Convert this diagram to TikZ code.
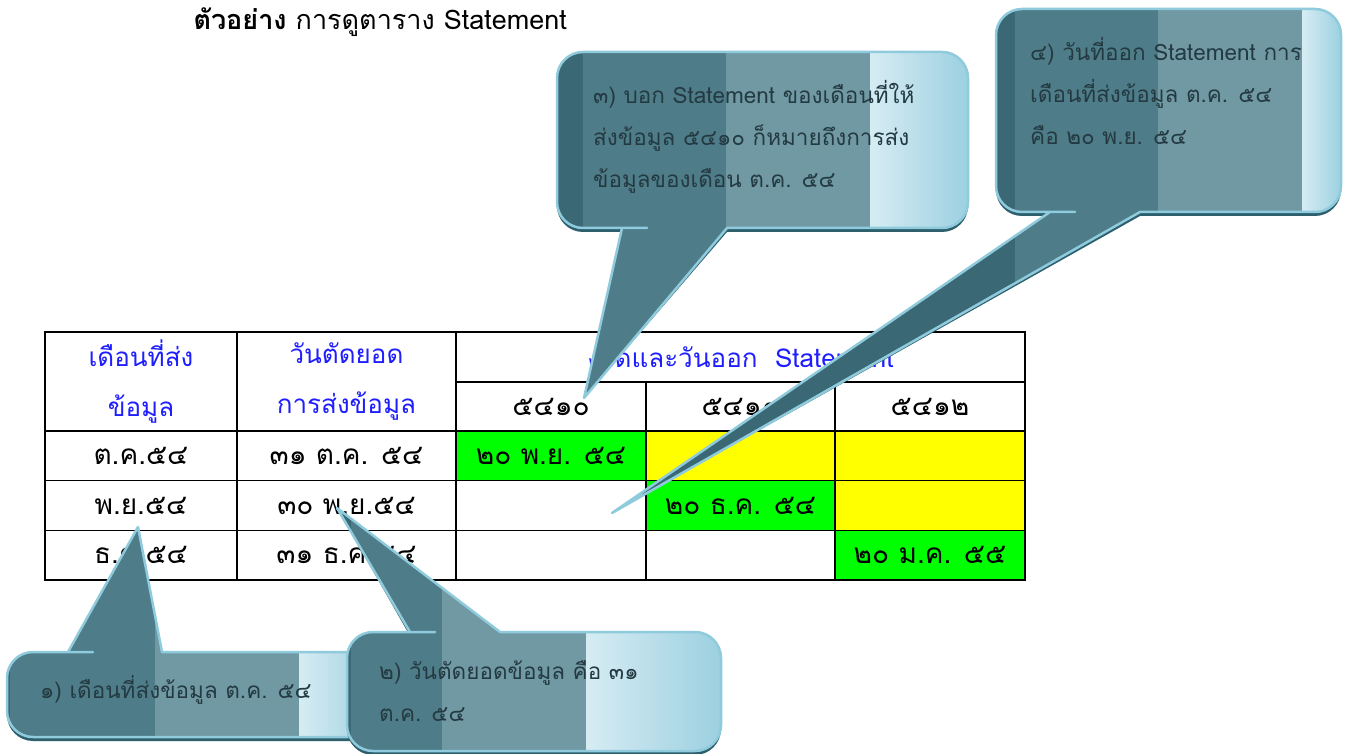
\documentclass[tikz,border=0pt]{standalone}
\usepackage{fontspec}
\newfontfamily\thaifont[Script=Thai]{Loma}
\usetikzlibrary{positioning}

\definecolor{headblue}{RGB}{30,30,255}
\definecolor{cellgreen}{RGB}{0,255,0}
\definecolor{cellyellow}{RGB}{255,255,0}
\definecolor{balloonbase}{RGB}{58,104,117}
\definecolor{balloondark}{RGB}{78,124,136}
\definecolor{balloonmid}{RGB}{112,153,163}
\definecolor{balloonlightA}{RGB}{214,236,243}
\definecolor{balloonlightB}{RGB}{156,208,224}
\definecolor{balloonrim}{RGB}{143,203,220}
\definecolor{balloonshadow}{RGB}{45,95,108}
\definecolor{notetext}{RGB}{36,58,66}

\newcommand{\titlefont}{\thaifont\fontsize{27}{30}\selectfont}
\newcommand{\tblfont}{\thaifont\fontsize{28}{30}\selectfont}
\newcommand{\tblhead}{\thaifont\fontsize{26}{50}\selectfont}
\newcommand{\notefont}{\thaifont\fontsize{22.5}{42}\selectfont}

% balloon outline: x1, x2, y of tail side, y of other side, tail from, tail to, tip
\newcommand{\balloon}[7]{({#5},{#3}) -- (#7) -- ({#6},{#3}) -- ({#6+1},{#3})
  [rounded corners=26pt] -- ({#2},{#3}) -- ({#2},{#4}) -- ({#1},{#4}) -- ({#1},{#3})
  -- ({#5-1},{#3}) [sharp corners] -- cycle}

% balloon body with its bands: outline args, dark band start, light part start
\newcommand{\drawballoon}[9]{%
  \fill[balloon shadow, yshift=-4pt] \balloon{#1}{#2}{#3}{#4}{#5}{#6}{#7};
  \begin{scope}
    \clip \balloon{#1}{#2}{#3}{#4}{#5}{#6}{#7};
    \fill[balloon base] (0,0) rectangle (1350,754);
    \fill[balloon dark] (#8,0) rectangle ({#9-144},754);
    \fill[balloon mid] ({#9-144},0) rectangle (#9,754);
    \shade[balloon light] (#9,0) rectangle (#2,754);
  \end{scope}
  \draw[balloon rim] \balloon{#1}{#2}{#3}{#4}{#5}{#6}{#7};
}

\begin{document}
\begin{tikzpicture}[x=1pt,y=-1pt,
    cell/.style={draw,line width=1.5pt,outer sep=0pt,inner sep=0pt,
      minimum height=49.7pt,font=\tblfont},
    head/.style={cell,text=headblue,font=\tblhead,align=center},
    issued/.style={fill=cellgreen},
    pending/.style={fill=cellyellow},
    note/.style={inner sep=0pt,align=left,font=\notefont,text=notetext},
    balloon shadow/.style={fill=balloonshadow},
    balloon base/.style={fill=balloonbase},
    balloon dark/.style={fill=balloondark},
    balloon mid/.style={fill=balloonmid},
    balloon light/.style={left color=balloonlightA,right color=balloonlightB},
    balloon rim/.style={draw=balloonrim,line width=2.5pt,line join=round}]

\useasboundingbox (0,0) rectangle (1350,754);

\node [anchor=west,font=\titlefont] (title) at (190,22)
    {\textbf{ตัวอย่าง} การดูตาราง Statement};

% table head
\node [head, minimum width=192pt, minimum height=99pt] (sendmonth) at (141,381.5)
    {เดือนที่ส่ง\\ข้อมูล};
\node [head, minimum width=219pt, minimum height=99pt, right=0pt of sendmonth] (cutoff)
    {วันตัดยอด\\การส่งข้อมูล};
\node [head, minimum width=569pt, minimum height=50pt, anchor=north west] (period)
    at (cutoff.north east) {งวดและวันออก\ \ Statement};
\node [cell, minimum width=190pt, anchor=north west] (p5410) at (period.south west) {๕๔๑๐};
\node [cell, minimum width=189pt, right=0pt of p5410] (p5411) {๕๔๑๑};
\node [cell, minimum width=190pt, right=0pt of p5411] (p5412) {๕๔๑๒};

% rows
\node [cell, minimum width=192pt, anchor=north west] (oct) at (sendmonth.south west) {ต.ค.๕๔};
\node [cell, minimum width=219pt, right=0pt of oct] (octcut) {๓๑ ต.ค. ๕๔};
\node [cell, issued, minimum width=190pt, right=0pt of octcut] (oct10) {๒๐ พ.ย. ๕๔};
\node [cell, pending, minimum width=189pt, right=0pt of oct10] (oct11) {};
\node [cell, pending, minimum width=190pt, right=0pt of oct11] (oct12) {};

\node [cell, minimum width=192pt, below=0pt of oct] (nov) {พ.ย.๕๔};
\node [cell, minimum width=219pt, right=0pt of nov] (novcut) {๓๐ พ.ย.๕๔};
\node [cell, minimum width=190pt, right=0pt of novcut] (nov10) {};
\node [cell, issued, minimum width=189pt, right=0pt of nov10] (nov11) {๒๐ ธ.ค. ๕๔};
\node [cell, pending, minimum width=190pt, right=0pt of nov11] (nov12) {};

\node [cell, minimum width=192pt, below=0pt of nov] (dec) {ธ.ค.๕๔};
\node [cell, minimum width=219pt, right=0pt of dec] (deccut) {๓๑ ธ.ค.๕๔};
\node [cell, minimum width=190pt, right=0pt of deccut] (dec10) {};
\node [cell, minimum width=189pt, right=0pt of dec10] (dec11) {};
\node [cell, issued, minimum width=190pt, right=0pt of dec11] (dec12) {๒๐ ม.ค. ๕๕};

% balloon tips
\coordinate (tipmonth) at (138,527);
\coordinate (tipcut) at (337,508);
\coordinate (tipperiod) at (584,398);
\coordinate (tipdate) at (612,513);

% balloons
\drawballoon{7}{380}{652}{737}{68}{162}{tipmonth}{10}{299}
\node [note, anchor=west] (note1) at (40,690) {๑) เดือนที่ส่งข้อมูล ต.ค. ๕๔};

\drawballoon{347}{721}{632}{751}{410}{500}{tipcut}{351}{586}
\node [note, anchor=west] (note2) at (379,691) {๒) วันตัดยอดข้อมูล คือ ๓๑\\ต.ค. ๕๔};

\drawballoon{557}{968}{228}{52}{622}{727}{tipperiod}{583}{870}
\node [note, anchor=west] (note3) at (593,137)
    {๓) บอก Statement ของเดือนที่ให้\\ส่งข้อมูล ๕๔๑๐ ก็หมายถึงการส่ง\\ข้อมูลของเดือน ต.ค. ๕๔};

\drawballoon{996}{1341}{212}{9}{1050}{1140}{tipdate}{1015}{1302}
\node [note, anchor=west] (note4) at (1030,91)
    {๔) วันที่ออก Statement การ\\เดือนที่ส่งข้อมูล ต.ค. ๕๔\\คือ ๒๐ พ.ย. ๕๔};

\end{tikzpicture}
\end{document}
